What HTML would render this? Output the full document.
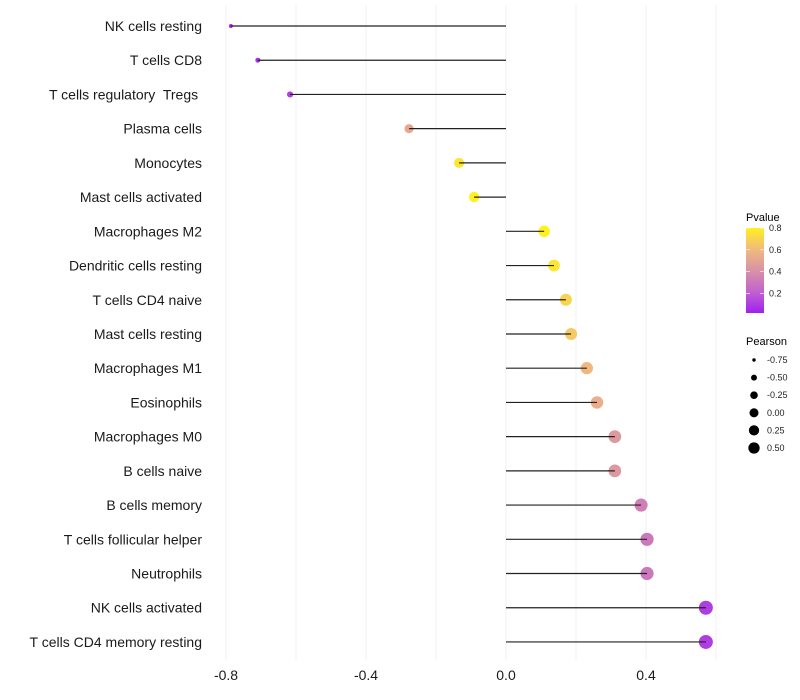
<!DOCTYPE html>
<html><head><meta charset="utf-8"><style>
body{margin:0;background:#fff;}
svg{display:block;font-family:"Liberation Sans",sans-serif;}
</style></head><body>
<svg id="chart" width="800" height="700">
<defs><linearGradient id="pg" x1="0" y1="1" x2="0" y2="0">
<stop offset="0" stop-color="#a020f0"/><stop offset="0.24" stop-color="#c060d0"/>
<stop offset="0.49" stop-color="#d890a8"/><stop offset="0.74" stop-color="#f0b880"/><stop offset="1" stop-color="#fff020"/>
</linearGradient></defs>
<g id="grid"></g><g id="marks"></g><g id="axes"></g>
<g>
<text x="746" y="221" font-size="11">Pvalue</text>
<rect x="746" y="228" width="18" height="85" fill="url(#pg)"/>
<g font-size="9" fill="#222" id="pticks"></g>
<text x="746" y="345" font-size="11">Pearson</text>
<g id="sleg" font-size="9" fill="#222"></g>
</g>
</svg>
<script>
const categories=["NK cells resting","T cells CD8","T cells regulatory  Tregs ","Plasma cells","Monocytes","Mast cells activated","Macrophages M2","Dendritic cells resting","T cells CD4 naive","Mast cells resting","Macrophages M1","Eosinophils","Macrophages M0","B cells naive","B cells memory","T cells follicular helper","Neutrophils","NK cells activated","T cells CD4 memory resting"];
const pearson=[-0.786,-0.709,-0.617,-0.277,-0.134,-0.091,0.109,0.137,0.171,0.186,0.231,0.26,0.311,0.311,0.386,0.403,0.403,0.571,0.571];
const pvalue=[0.02,0.05,0.1,0.52,0.76,0.83,0.82,0.76,0.7,0.66,0.6,0.55,0.44,0.44,0.33,0.3,0.3,0.09,0.09];
const xTicks=[-0.8,-0.4,0.0,0.4];
const xTickLabels=["-0.8","-0.4","0.0","0.4"];
const gridVals=[-0.8,-0.6,-0.4,-0.2,0,0.2,0.4,0.6];
const pTicks=[0.2,0.4,0.6,0.8];
const sizeBreaks=[-0.75,-0.5,-0.25,0,0.25,0.5];
const NS="http://www.w3.org/2000/svg";
const X=v=>506+v*350;
const Y=i=>26+i*34.22;
const R=p=>Math.sqrt(Math.max(1,30+33.3*p));
const RL=p=>Math.sqrt(Math.max(1,20.4+23.2*p));
const PY=p=>313-(p-0.02)/0.78*85;
const stops=[[0,[160,32,240]],[0.2,[192,96,208]],[0.4,[216,144,168]],[0.6,[240,184,128]],[0.8,[255,240,32]]];
function col(p){p=Math.max(0,Math.min(0.8,p));for(let k=0;k<stops.length-1;k++){const[a,ca]=stops[k],[b,cb]=stops[k+1];if(p<=b){const t=(p-a)/(b-a);return"rgb("+ca.map((c,j)=>Math.round(c+(cb[j]-c)*t)).join(",")+")";}}return"rgb(255,240,32)";}
function el(t,a,parent){const e=document.createElementNS(NS,t);for(const k in a)e.setAttribute(k,a[k]);parent.appendChild(e);return e;}
const grid=document.getElementById('grid'),marks=document.getElementById('marks'),axes=document.getElementById('axes');
gridVals.forEach(v=>{const l=el('line',{x1:X(v),x2:X(v),y1:5,y2:660,stroke:'#f2f2f2','stroke-width':1},grid);

});
categories.forEach((c,i)=>{
const y=Y(i);
const dot=el('circle',{cx:X(pearson[i]),cy:y,r:R(pearson[i]),fill:col(pvalue[i])},marks);


const ln=el('line',{x1:X(0),x2:X(pearson[i]),y1:y,y2:y,stroke:'#222','stroke-width':1.2},marks);


const t=el('text',{x:202,y:y+5,'text-anchor':'end','font-size':14,fill:'#1a1a1a','xml:space':'preserve'},axes);
t.style.whiteSpace='pre';
t.textContent=c;


});
xTicks.forEach((v,i)=>{const t=el('text',{x:X(v),y:680,'text-anchor':'middle','font-size':14,fill:'#1a1a1a'},axes);
t.textContent=xTickLabels[i];

});
const pt=document.getElementById('pticks');
pTicks.forEach(p=>{const y=PY(p);
el('line',{x1:746,x2:750,y1:y,y2:y,stroke:'#fff','stroke-width':0.6},pt);
el('line',{x1:760,x2:764,y1:y,y2:y,stroke:'#fff','stroke-width':0.6},pt);
const t=el('text',{x:769,y:y+3},pt);t.textContent=p.toFixed(1);

});
const sl=document.getElementById('sleg');
sizeBreaks.forEach((s,i)=>{const y=360+i*17.6;
const c=el('circle',{cx:754,cy:y,r:RL(s),fill:'#000'},sl);


const t=el('text',{x:767,y:y+3},sl);t.textContent=s.toFixed(2);

});
</script>
</body></html>
